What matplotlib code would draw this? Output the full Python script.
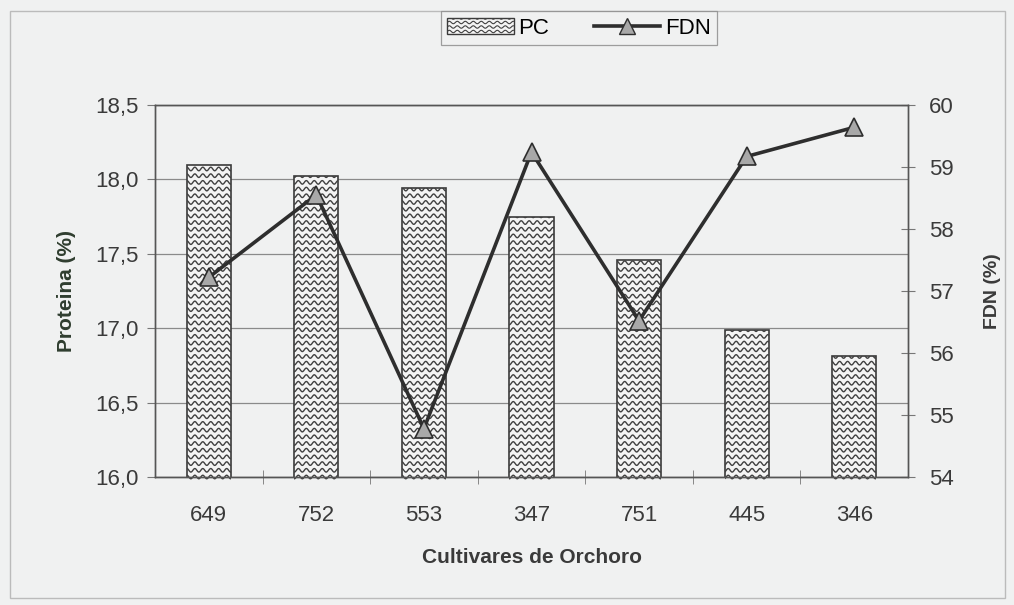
import numpy as np
import matplotlib
matplotlib.use("Agg")
import matplotlib.pyplot as plt
from matplotlib.collections import LineCollection
from matplotlib.lines import Line2D
from matplotlib.patches import Patch, Rectangle

plt.rcParams['font.family'] = ['Liberation Sans', 'DejaVu Sans']

cultivares = ['649', '752', '553', '347', '751', '445', '346']
pc = [18.10, 18.02, 17.94, 17.75, 17.46, 16.99, 16.81]
fdn = [57.22, 58.55, 54.78, 59.24, 56.52, 59.17, 59.64]

bg = '#f0f1f1'
ink = '#3a3a3a'

fig = plt.figure(figsize=(10.14, 6.05), dpi=100, facecolor=bg)
ax = fig.add_axes([155/1014, 1 - 477/605, 753/1014, 372/605])
ax.set_facecolor(bg)

x = np.arange(len(cultivares))
bars = ax.bar(x, pc, width=0.41, bottom=0, color='#f4f4f4',
              edgecolor=ink, linewidth=1.2, zorder=2)

# wavy fill inside each bar
ax.set_xlim(-0.5, len(cultivares) - 0.5)
ax.set_ylim(16.0, 18.5)
xs = np.linspace(-0.5, len(cultivares) - 0.5, 1400)
rows = np.arange(16.0, 18.6, 0.045)
for b in bars:
    segs = [np.column_stack([xs, r + 0.012 * np.sin(2 * np.pi * xs / 0.074)]) for r in rows]
    lc = LineCollection(segs, colors='#404040', linewidths=1.0, zorder=2.5)
    ax.add_collection(lc)
    lc.set_clip_path(b)

ax.set_yticks(np.arange(16.0, 18.51, 0.5))
ax.set_yticklabels([f'{v:.1f}'.replace('.', ',') for v in np.arange(16.0, 18.51, 0.5)])
ax.grid(axis='y', color='#8a8a8a', linewidth=0.9, zorder=0)
ax.set_axisbelow(True)

ax.set_xticks(x)
ax.set_xticklabels(cultivares)
ax.set_xticks(np.arange(0.5, len(cultivares) - 0.5, 1), minor=True)
ax.tick_params(axis='x', which='major', length=0, pad=20, labelsize=16, colors=ink)
ax.tick_params(axis='x', which='minor', length=10, direction='inout', color='#777')
ax.tick_params(axis='y', length=6, color='#777', labelsize=16, colors=ink, pad=6)

for s in ax.spines.values():
    s.set_color('#555')
    s.set_linewidth(1.0)

ax.set_xlabel('Cultivares de Orchoro', fontsize=15, fontweight='bold', color=ink, labelpad=16)
ax.set_ylabel('Proteina (%)', fontsize=15, fontweight='bold', color='#2f3d2f', labelpad=14)

ax2 = ax.twinx()
ax2.plot(x, fdn, color='#2e2e2e', linewidth=2.6, marker='^', markersize=13,
         markerfacecolor='#a8a8a8', markeredgecolor='#2e2e2e', markeredgewidth=1.2, zorder=5)
ax2.set_ylim(54, 60)
ax2.set_yticks(np.arange(54, 61, 1))
ax2.tick_params(axis='y', length=10, direction='inout', color='#777', labelsize=16, colors=ink, pad=10)
ax2.set_ylabel('FDN (%)', fontsize=14, fontweight='bold', color=ink, labelpad=22)
for s in ax2.spines.values():
    s.set_color('#555')
    s.set_linewidth(1.0)

# legend
h1 = Patch(facecolor='#f4f4f4', edgecolor=ink, label='PC')
h2 = Line2D([0], [0], color='#2e2e2e', linewidth=2.6, marker='^', markersize=11,
            markerfacecolor='#a8a8a8', markeredgecolor='#2e2e2e', label='FDN')
leg = fig.legend(handles=[h1, h2], loc='center', bbox_to_anchor=(579/1014, 1 - 28/605),
                 ncol=2, fontsize=16, frameon=True, fancybox=False, edgecolor='#888',
                 facecolor=bg, handlelength=3.0, columnspacing=2.0, borderpad=0.3,
                 handletextpad=0.2)
leg.get_frame().set_linewidth(0.9)

# wavy pattern in legend patch
fig.canvas.draw()
lp = leg.legend_handles[0]
bb = lp.get_window_extent()
ys = np.arange(bb.y0 + 2, bb.y1, 4.5)
xw = np.linspace(bb.x0, bb.x1, 200)
segs = [np.column_stack([xw, yv + 1.2 * np.sin(2 * np.pi * (xw - bb.x0) / 8)]) for yv in ys]
inv = fig.transFigure.inverted()
segs = [inv.transform(sg) for sg in segs]
lcl = LineCollection(segs, colors='#404040', linewidths=0.8, transform=fig.transFigure, zorder=10)
fig.add_artist(lcl)
clip = Rectangle((bb.x0, bb.y0), bb.width, bb.height, transform=None)
lcl.set_clip_path(clip)

# outer chart frame
fig.add_artist(Rectangle((10/1014, 1 - 598/605), 995/1014, 587/605, transform=fig.transFigure,
                         fill=False, edgecolor='#bbbbbb', linewidth=1.0))

fig.savefig('out.png', dpi=100, facecolor=bg)
